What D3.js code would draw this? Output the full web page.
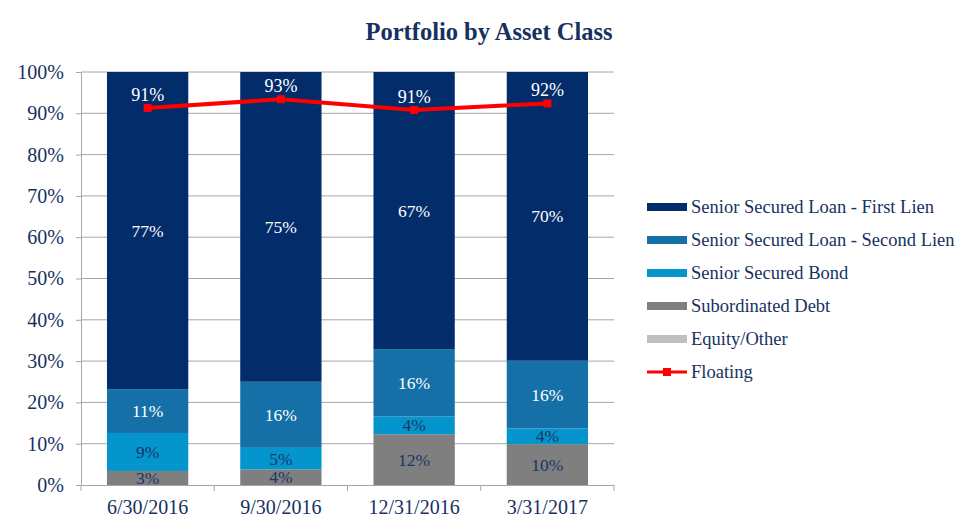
<!DOCTYPE html>
<html><head><meta charset="utf-8">
<script src="https://cdn.jsdelivr.net/npm/d3@7"></script>
<style>body{margin:0;background:#fff;} svg{display:block;} text{font-family:"Liberation Serif","Times New Roman",serif;}</style>
</head><body><svg id="chart" width="979" height="530"></svg>
<script>
const categories = ["6/30/2016", "9/30/2016", "12/31/2016", "3/31/2017"];
const seriesNames = ["Subordinated Debt", "Senior Secured Bond", "Senior Secured Loan - Second Lien", "Senior Secured Loan - First Lien", "Equity/Other"];
const subordinatedDebt = [3.4, 3.8, 12.3, 9.9];
const seniorSecuredBond = [9.2, 5.2, 4.3, 3.8];
const secondLien = [10.6, 16.0, 16.3, 16.4];
const firstLien = [76.8, 75.0, 67.1, 69.9];
const equityOther = [0, 0, 0, 0];
const floating = [91.3, 93.4, 90.8, 92.4];
const yTicks = [0, 10, 20, 30, 40, 50, 60, 70, 80, 90, 100];
const legendOrder = ["Senior Secured Loan - First Lien", "Senior Secured Loan - Second Lien", "Senior Secured Bond", "Subordinated Debt", "Equity/Other", "Floating"];

const colors = {
  "Subordinated Debt": "#7f7f7f",
  "Senior Secured Bond": "#0395cb",
  "Senior Secured Loan - Second Lien": "#1470a7",
  "Senior Secured Loan - First Lien": "#022d6a",
  "Equity/Other": "#bfbfbf",
  "Floating": "#ff0000"
};
const labelColors = {
  "Subordinated Debt": "#1c3466",
  "Senior Secured Bond": "#1c3466",
  "Senior Secured Loan - Second Lien": "#ffffff",
  "Senior Secured Loan - First Lien": "#ffffff",
  "Equity/Other": "#1c3466"
};
const textColor = "#17315f";

const rows = categories.map((c, i) => ({
  cat: c,
  "Subordinated Debt": subordinatedDebt[i],
  "Senior Secured Bond": seniorSecuredBond[i],
  "Senior Secured Loan - Second Lien": secondLien[i],
  "Senior Secured Loan - First Lien": firstLien[i],
  "Equity/Other": equityOther[i],
  floating: floating[i]
}));

const svg = d3.select("#chart");
const x = d3.scaleBand().domain(categories).range([81, 614]).paddingInner(0.39).paddingOuter(0.195);
const y = d3.scaleLinear().domain([0, 100]).range([485, 72]);

// title
svg.append("text").attr("x", 489).attr("y", 40).attr("text-anchor", "middle")
  .attr("font-size", 24.5).attr("font-weight", "bold").attr("fill", "#17315f")
  .text("Portfolio by Asset Class");

// gridlines
svg.append("g").selectAll("line").data(yTicks.filter(d => d > 0)).join("line")
  .attr("x1", 81).attr("x2", 614).attr("y1", d => y(d)).attr("y2", d => y(d))
  .attr("stroke", "#a6a6a6").attr("stroke-width", 1);

// y axis
const yAxis = svg.append("g").attr("transform", "translate(81,0)")
  .call(d3.axisLeft(y).tickValues(yTicks).tickFormat(d => d + "%").tickSize(5).tickSizeOuter(0));
yAxis.select(".domain").attr("stroke", "#a6a6a6");
yAxis.selectAll(".tick line").attr("stroke", "#a6a6a6");
yAxis.selectAll(".tick text").attr("font-size", 20).attr("fill", textColor)
  .attr("font-family", "Liberation Serif").attr("x", -17);

// bars
const stack = d3.stack().keys(seriesNames);
const stacked = stack(rows);
const gBars = svg.append("g");
stacked.forEach(layer => {
  gBars.append("g").selectAll("rect").data(layer).join("rect")
    .attr("x", d => x(d.data.cat)).attr("width", x.bandwidth())
    .attr("y", d => y(d[1])).attr("height", d => y(d[0]) - y(d[1]))
    .attr("fill", colors[layer.key]);
});
// bar labels
stacked.forEach(layer => {
  gBars.append("g").selectAll("text").data(layer.filter(d => d[1] - d[0] > 0)).join("text")
    .attr("x", d => x(d.data.cat) + x.bandwidth() / 2)
    .attr("y", d => y((d[0] + d[1]) / 2))
    .attr("dy", "0.35em").attr("text-anchor", "middle")
    .attr("font-size", 17.5).attr("fill", labelColors[layer.key])
    .text(d => Math.round(d[1] - d[0]) + "%");
});

// x axis
const xAxis = svg.append("g").attr("transform", "translate(0,485)")
  .call(d3.axisBottom(x).tickSize(0).tickSizeOuter(0));
xAxis.select(".domain").attr("stroke", "#a6a6a6");
xAxis.selectAll(".tick text").attr("font-size", 20).attr("fill", textColor)
  .attr("font-family", "Liberation Serif").attr("dy", "1.3em");
// boundary ticks
const step = x.step();
svg.append("g").selectAll("line").data(d3.range(categories.length + 1)).join("line")
  .attr("x1", i => 81 + i * step).attr("x2", i => 81 + i * step)
  .attr("y1", 485).attr("y2", 491).attr("stroke", "#a6a6a6");

// floating line
const line = d3.line().x(d => x(d.cat) + x.bandwidth() / 2).y(d => y(d.floating));
svg.append("path").datum(rows).attr("d", line).attr("fill", "none")
  .attr("stroke", colors.Floating).attr("stroke-width", 4);
svg.append("g").selectAll("rect").data(rows).join("rect")
  .attr("x", d => x(d.cat) + x.bandwidth() / 2 - 4).attr("y", d => y(d.floating) - 4)
  .attr("width", 8).attr("height", 8).attr("fill", colors.Floating);
svg.append("g").selectAll("text").data(rows).join("text")
  .attr("x", d => x(d.cat) + x.bandwidth() / 2).attr("y", d => y(d.floating) - 7)
  .attr("text-anchor", "middle").attr("font-size", 18).attr("fill", "#ffffff")
  .text(d => Math.round(d.floating) + "%");

// legend
const lg = svg.append("g").attr("transform", "translate(647,207)");
legendOrder.forEach((name, i) => {
  const g = lg.append("g").attr("transform", `translate(0,${i * 33})`);
  if (name === "Floating") {
    g.append("line").attr("x1", 0).attr("x2", 40).attr("y1", 0).attr("y2", 0)
      .attr("stroke", colors.Floating).attr("stroke-width", 3);
    g.append("rect").attr("x", 16).attr("y", -4).attr("width", 8).attr("height", 8).attr("fill", colors.Floating);
  } else {
    g.append("rect").attr("x", 0).attr("y", -4).attr("width", 40).attr("height", 8).attr("fill", colors[name]);
  }
  g.append("text").attr("x", 44).attr("y", 0).attr("dy", "0.35em")
    .attr("font-size", 18.5).attr("fill", textColor).text(name);
});
</script></body></html>
